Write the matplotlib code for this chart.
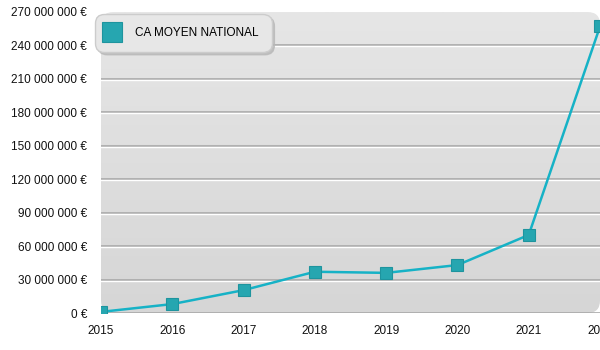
import numpy as np
import matplotlib.pyplot as plt
from matplotlib.patches import FancyBboxPatch
from matplotlib.ticker import FuncFormatter, MultipleLocator

plt.rcParams['font.family'] = ['Liberation Sans', 'DejaVu Sans']

# données
annees = [2015, 2016, 2017, 2018, 2019, 2020, 2021, 2022]
ca_moyen = [1.0e6, 8.0e6, 20.5e6, 37.0e6, 36.0e6, 43.0e6, 70.0e6, 257.0e6]
serie = "CA MOYEN NATIONAL"

fig = plt.figure(figsize=(6, 3.5), dpi=100)
ax = fig.add_axes([101 / 600, 37 / 350, 499 / 600, 301 / 350])
ax.set_xlim(2015, 2022)
ax.set_ylim(0, 270e6)

# fond dégradé aux coins arrondis
fond = FancyBboxPatch((0, 0), 1, 1, boxstyle="round,pad=0,rounding_size=0.025",
                      transform=ax.transAxes, facecolor='none', edgecolor='none',
                      mutation_aspect=499 / 301)
ax.add_patch(fond)
grad = np.linspace(0, 1, 256).reshape(-1, 1)
img = ax.imshow(grad, extent=[2015, 2022, 0, 270e6], aspect='auto', origin='lower',
                cmap=plt.matplotlib.colors.LinearSegmentedColormap.from_list(
                    'g', ['#d6d6d6', '#e6e6e6']), zorder=0)
img.set_clip_path(fond)

for s in ax.spines.values():
    s.set_visible(False)

# lignes de grille en relief
for v in np.arange(0, 270e6, 30e6):
    ax.axhline(v, color='#a9a9a9', lw=1.2, zorder=1)
    ax.plot([2015, 2022], [v - 0.9e6, v - 0.9e6], color='white', lw=1, zorder=1)

ax.plot(annees, ca_moyen, color='#16b2c6', lw=1.8, zorder=3, clip_on=True,
        marker='s', markersize=8.5, markerfacecolor='#26a6b0',
        markeredgecolor='#1e949e', markeredgewidth=0.8, label=serie)

ax.yaxis.set_major_locator(MultipleLocator(30e6))
ax.yaxis.set_major_formatter(FuncFormatter(
    lambda v, p: f"{v:,.0f}".replace(',', ' ') + " €"))
ax.set_xticks(annees)
ax.tick_params(length=0, labelsize=8.5, colors='#111111')
ax.tick_params(axis='y', pad=10)
ax.tick_params(axis='x', pad=9)

leg = ax.legend(loc='upper left', bbox_to_anchor=(-6 / 499, 1 - 2 / 301), fontsize=8.5,
                fancybox=True, shadow={'color': '#b8b8b8', 'alpha': 0.8}, framealpha=1,
                facecolor='#e7e7e7', edgecolor='#cccccc', borderpad=1.1,
                borderaxespad=0, handlelength=0.6, handletextpad=1.7, markerscale=1.7)
for h in leg.legend_handles:
    h.set_linestyle('none')
leg.get_frame().set_boxstyle("round,pad=0,rounding_size=0.8")

fig.savefig('out.png', dpi=100)
